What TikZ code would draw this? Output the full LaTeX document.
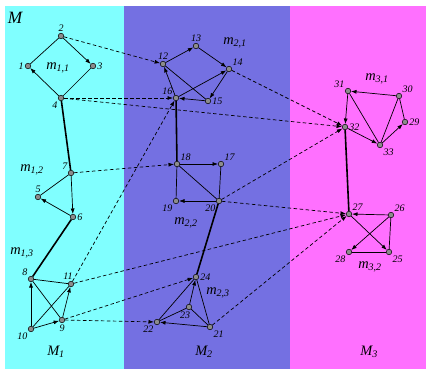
\documentclass[tikz,border=0pt]{standalone}
\usepackage{fontspec}
\setmainfont{Liberation Serif}
\usetikzlibrary{arrows.meta}

\definecolor{paneA}{RGB}{128,255,255}
\definecolor{paneB}{RGB}{116,112,226}
\definecolor{paneC}{RGB}{255,112,255}

\begin{document}
\begin{tikzpicture}[
    x=1pt, y=-1pt,
    vertex/.style={circle, draw, fill=gray!90, line width=0.5pt, inner sep=0pt, minimum size=5.5pt},
    every label/.style={font=\normalsize\itshape, inner sep=1.2pt},
    tag/.style={font=\Large\itshape},
    arc/.style={-{Latex[length=5.5pt,width=4pt]}, line width=0.7pt},
    plain/.style={line width=0.7pt},
    link/.style={dash pattern=on 3.5pt off 2.5pt, -{Latex[length=5.5pt,width=4pt]}, line width=0.7pt},
    bond/.style={line width=1.6pt}
]
\useasboundingbox (0,0) rectangle (426,369);
\fill[paneA] (5,6) rectangle (124,369);
\fill[paneB] (124,6) rectangle (290,369);
\fill[paneC] (290,6) rectangle (426,369);

\node[font=\LARGE\itshape] (top) at (15,18) {M};
\node[tag] (M1) at (56,352) {M\textsubscript{1}};
\node[tag] (M2) at (204,352) {M\textsubscript{2}};
\node[tag] (M3) at (369,352) {M\textsubscript{3}};
\node[tag] (m11) at (58,68) {m\textsubscript{1,1}};
\node[tag] (m12) at (32,170) {m\textsubscript{1,2}};
\node[tag] (m13) at (22,253) {m\textsubscript{1,3}};
\node[tag] (m21) at (235,43) {m\textsubscript{2,1}};
\node[tag] (m22) at (186,223) {m\textsubscript{2,2}};
\node[tag] (m23) at (218,293) {m\textsubscript{2,3}};
\node[tag] (m31) at (377,79) {m\textsubscript{3,1}};
\node[tag] (m32) at (370,267) {m\textsubscript{3,2}};

\node[vertex, label=left:1] (n1) at (28,66) {};
\node[vertex, label=above:2] (n2) at (61,36) {};
\node[vertex, label=right:3] (n3) at (93,66) {};
\node[vertex, label=below left:4] (n4) at (61,98) {};
\node[vertex, label=above:5] (n5) at (38,197) {};
\node[vertex, label=right:6] (n6) at (73,217) {};
\node[vertex, label=above left:7] (n7) at (71,173) {};
\node[vertex, label=above left:8] (n8) at (31,279) {};
\node[vertex, label=below:9] (n9) at (62,320) {};
\node[vertex, label=below left:10] (n10) at (31,329) {};
\node[vertex, label={[xshift=-3pt]above:11}] (n11) at (71,284) {};
\node[vertex, label=above:12] (n12) at (163,64) {};
\node[vertex, label=above:13] (n13) at (196,46) {};
\node[vertex, label=above right:14] (n14) at (229,69) {};
\node[vertex, label=right:15] (n15) at (208,101) {};
\node[vertex, label=above left:16] (n16) at (176,98) {};
\node[vertex, label=above right:17] (n17) at (221,164) {};
\node[vertex, label=above right:18] (n18) at (177,164) {};
\node[vertex, label=below left:19] (n19) at (176,201) {};
\node[vertex, label=below left:20] (n20) at (219,201) {};
\node[vertex, label=below right:21] (n21) at (210,327) {};
\node[vertex, label=below left:22] (n22) at (157,322) {};
\node[vertex, label={[xshift=-4pt]below:23}] (n23) at (189,307) {};
\node[vertex, label=right:24] (n24) at (196,277) {};
\node[vertex, label=below right:25] (n25) at (389,252) {};
\node[vertex, label=above right:26] (n26) at (391,215) {};
\node[vertex, label=above right:27] (n27) at (349,214) {};
\node[vertex, label=below left:28] (n28) at (349,252) {};
\node[vertex, label=right:29] (n29) at (405,122) {};
\node[vertex, label=above right:30] (n30) at (399,96) {};
\node[vertex, label=above left:31] (n31) at (348,91) {};
\node[vertex, label=right:32] (n32) at (345,127) {};
\node[vertex, label=below right:33] (n33) at (380,145) {};

\draw[plain] (n1) -- (n2);
\draw[arc] (n2) -- (n3);
\draw[plain] (n3) -- (n4);
\draw[arc] (n4) -- (n1);
\draw[bond] (n4) -- (n7);
\draw[plain] (n7) -- (n5);
\draw[arc] (n7) -- (n6);
\draw[arc] (n6) -- (n5);
\draw[bond] (n6) -- (n8);
\draw[arc] (n10) -- (n8);
\draw[plain] (n8) -- (n11);
\draw[plain] (n8) -- (n9);
\draw[plain] (n10) -- (n11);
\draw[arc] (n10) -- (n9);
\draw[arc] (n9) -- (n11);

\draw[arc] (n12) -- (n13);
\draw[arc] (n13) -- (n14);
\draw[arc] (n14) -- (n15);
\draw[arc] (n15) -- (n16);
\draw[arc] (n16) -- (n12);
\draw[arc] (n16) -- (n14);
\draw[plain] (n12) -- (n15);
\draw[bond] (n16) -- (n18);
\draw[arc] (n18) -- (n17);
\draw[plain] (n17) -- (n20);
\draw[arc] (n20) -- (n19);
\draw[plain] (n18) -- (n19);
\draw[plain] (n18) -- (n20);
\draw[bond] (n20) -- (n24);
\draw[arc] (n23) -- (n24);
\draw[plain] (n22) -- (n24);
\draw[plain] (n21) -- (n24);
\draw[plain] (n22) -- (n23);
\draw[plain] (n23) -- (n21);
\draw[arc] (n21) -- (n22);

\draw[arc] (n30) -- (n31);
\draw[arc] (n31) -- (n32);
\draw[plain] (n31) -- (n33);
\draw[arc] (n32) -- (n33);
\draw[plain] (n30) -- (n33);
\draw[arc] (n33) -- (n29);
\draw[plain] (n30) -- (n29);
\draw[bond] (n32) -- (n27);
\draw[arc] (n26) -- (n27);
\draw[arc] (n27) -- (n25);
\draw[arc] (n26) -- (n28);
\draw[plain] (n28) -- (n25);
\draw[plain] (n26) -- (n25);

\draw[link] (n2) -- (n12);
\draw[link] (n4) -- (n16);
\draw[link] (n4) -- (n32);
\draw[link] (n14) -- (n32);
\draw[link] (n7) -- (n18);
\draw[link] (n11) -- (n16);
\draw[link] (n20) -- (n32);
\draw[link] (n20) -- (n27);
\draw[link] (n11) -- (n27);
\draw[link] (n21) -- (n27);
\draw[link] (n9) -- (n24);
\draw[link] (n9) -- (n22);
\end{tikzpicture}
\end{document}
